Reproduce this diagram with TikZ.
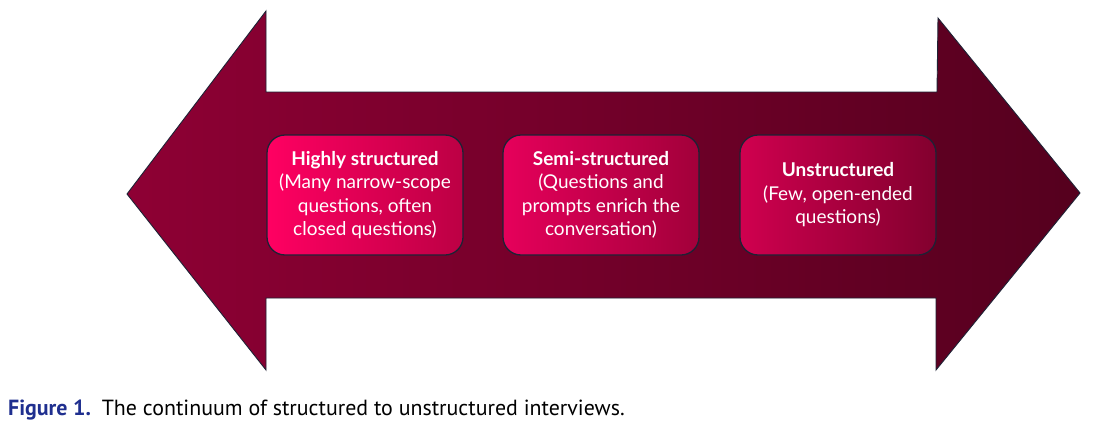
\documentclass[tikz,border=0pt]{standalone}
\usepackage{fontspec}
\setmainfont{Lato}
\newfontfamily\capfont{PT Sans}
\definecolor{arrL}{HTML}{8E0034}
\definecolor{arrR}{HTML}{55001E}
\definecolor{edge}{HTML}{1E2235}
\definecolor{capblue}{HTML}{1F2F8F}
\definecolor{hsL}{HTML}{FF0062}
\definecolor{hsR}{HTML}{BC0044}
\definecolor{ssL}{HTML}{E6005B}
\definecolor{ssR}{HTML}{A2003A}
\definecolor{usL}{HTML}{D0004F}
\definecolor{usR}{HTML}{82002E}
\begin{document}
\begin{tikzpicture}[x=1pt,y=-1pt,
  stagebox/.style={draw=edge, line width=1.3pt, rounded corners=18pt,
    minimum width=196pt, minimum height=120pt, inner sep=0pt,
    text=white, align=center, font=\fontsize{19}{23.5}\selectfont},
  arrowshape/.style={draw=edge, line width=0.9pt, left color=arrL, right color=arrR}]
\useasboundingbox (0,0) rectangle (1106,434);
\fill[white] (0,0) rectangle (1106,434);
\path[arrowshape] (127,194) -- (266,11) -- (266,92) -- (937,92) -- (938,18)
  -- (1080,193) -- (936,370) -- (936,298) -- (266,298) -- (266,370) -- cycle;
\node[stagebox, left color=hsL, right color=hsR] (hs) at (365,195)
  {\textbf{Highly structured}\\(Many narrow-scope\\questions, often\\closed questions)};
\node[stagebox, left color=ssL, right color=ssR] (ss) at (601,195)
  {\textbf{Semi-structured}\\(Questions and\\prompts enrich the\\conversation)};
\node[stagebox, left color=usL, right color=usR] (us) at (838,195)
  {\textbf{Unstructured}\\(Few, open-ended\\questions)};
\node[anchor=base west, inner sep=0pt, font=\capfont\fontsize{21.9}{24}\selectfont] (cap) at (8,415)
  {{\color{capblue}\bfseries Figure 1.}\hspace{0.5em}The continuum of structured to unstructured interviews.};
\end{tikzpicture}
\end{document}
